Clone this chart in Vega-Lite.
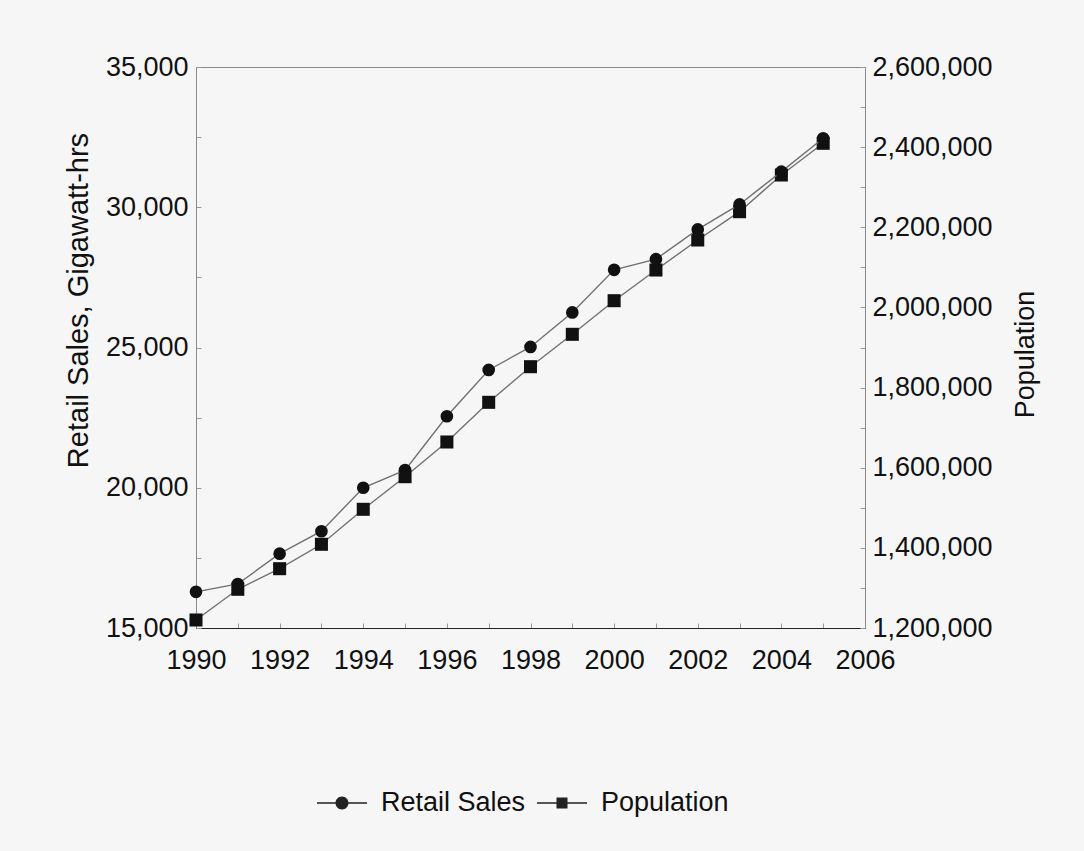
{
  "$schema": "https://vega.github.io/schema/vega-lite/v6.json",
  "width": 669,
  "height": 561,
  "autosize": {"type": "none"},
  "padding": {"left": 196, "top": 67, "right": 219, "bottom": 223},
  "background": "#f6f6f6",
  "config": {
    "font": "Liberation Sans",
    "view": {"stroke": "#8a8a8a", "strokeWidth": 1},
    "axis": {
      "labelFont": "Liberation Sans",
      "titleFont": "Liberation Sans",
      "labelFontSize": 27,
      "titleFontSize": 27,
      "titleFontWeight": "normal",
      "labelColor": "#111",
      "titleColor": "#111",
      "grid": false,
      "tickColor": "#999",
      "tickSize": -5,
      "tickWidth": 1
    }
  },
  "data": {
    "values": [
      {"year": 1990, "retail": 16290, "population": 1220000},
      {"year": 1991, "retail": 16570, "population": 1296600},
      {"year": 1992, "retail": 17650, "population": 1348000},
      {"year": 1993, "retail": 18450, "population": 1408900},
      {"year": 1994, "retail": 20000, "population": 1496200},
      {"year": 1995, "retail": 20630, "population": 1577600},
      {"year": 1996, "retail": 22550, "population": 1664200},
      {"year": 1997, "retail": 24200, "population": 1763200},
      {"year": 1998, "retail": 25020, "population": 1852100},
      {"year": 1999, "retail": 26250, "population": 1932900},
      {"year": 2000, "retail": 27770, "population": 2016800},
      {"year": 2001, "retail": 28150, "population": 2093400},
      {"year": 2002, "retail": 29210, "population": 2168300},
      {"year": 2003, "retail": 30100, "population": 2238900},
      {"year": 2004, "retail": 31270, "population": 2330500},
      {"year": 2005, "retail": 32460, "population": 2409600}
    ]
  },
  "encoding": {
    "x": {
      "field": "year",
      "type": "quantitative",
      "scale": {"domain": [1990, 2006], "nice": false, "zero": false},
      "axis": {
        "title": null,
        "values": [1990,1991,1992,1993,1994,1995,1996,1997,1998,1999,2000,2001,2002,2003,2004,2005,2006],
        "labelExpr": "datum.value % 2 === 0 ? format(datum.value, 'd') : ''",
        "labelPadding": 24,
        "labelFlush": false,
        "labelOverlap": false,
        "domainColor": "#222",
        "domainWidth": 1.2
      }
    }
  },
  "layer": [
    {
      "encoding": {
        "y": {
          "field": "population",
          "type": "quantitative",
          "scale": {"domain": [1200000, 2600000], "nice": false, "zero": false},
          "axis": {
            "orient": "right",
            "title": "Population",
            "titleAngle": 270,
            "titleBaseline": "top",
            "titlePadding": 20,
            "titleY": 287,
            "values": [1200000,1300000,1400000,1500000,1600000,1700000,1800000,1900000,2000000,2100000,2200000,2300000,2400000,2500000,2600000],
            "labelExpr": "datum.value % 200000 === 0 ? format(datum.value, ',') : ''",
            "labelPadding": 12,
            "labelFlush": false,
            "labelOverlap": false,
            "domainColor": "#8a8a8a"
          }
        }
      },
      "layer": [
        {"mark": {"type": "line", "color": "#707070", "strokeWidth": 1.4}},
        {"mark": {"type": "point", "shape": "square", "filled": true, "color": "#111", "opacity": 1, "size": 170}},
        {
          "mark": {"type": "point", "filled": true, "color": "#222", "opacity": 0},
          "encoding": {
            "shape": {
              "datum": "Population",
              "scale": {
                "domain": ["Retail Sales", "Population"],
                "range": [
                  "M-1,-0.03H-0.26V0.03H-1ZM0.26,-0.03H1V0.03H0.26ZM-0.26,0A0.26,0.26 0 1,0 0.26,0A0.26,0.26 0 1,0 -0.26,0Z",
                  "M-1,-0.03H-0.22V0.03H-1ZM0.22,-0.03H1V0.03H0.22ZM-0.22,-0.22H0.22V0.22H-0.22Z"
                ]
              },
              "legend": {
                "title": null,
                "orient": "none",
                "legendX": 120,
                "legendY": 710,
                "direction": "horizontal",
                "padding": 0,
                "symbolSize": 2500,
                "symbolOpacity": 1,
                "symbolFillColor": "#222",
                "labelFontSize": 27,
                "labelFont": "Liberation Sans",
                "labelColor": "#111",
                "labelOffset": 13,
                "columnPadding": 8
              }
            }
          }
        }
      ]
    },
    {
      "encoding": {
        "y": {
          "field": "retail",
          "type": "quantitative",
          "scale": {"domain": [15000, 35000], "nice": false, "zero": false},
          "axis": {
            "orient": "left",
            "title": "Retail Sales, Gigawatt-hrs",
            "titleFontSize": 29,
            "titlePadding": 12,
            "titleY": 233,
            "values": [15000,17500,20000,22500,25000,27500,30000,32500,35000],
            "labelExpr": "datum.value % 5000 === 0 ? format(datum.value, ',') : ''",
            "labelPadding": 13,
            "labelFlush": false,
            "labelOverlap": false,
            "domainColor": "#8a8a8a"
          }
        }
      },
      "layer": [
        {"mark": {"type": "line", "color": "#707070", "strokeWidth": 1.4}},
        {"mark": {"type": "point", "shape": "circle", "filled": true, "color": "#111", "opacity": 1, "size": 160}}
      ]
    }
  ],
  "resolve": {"scale": {"y": "independent"}}
}
